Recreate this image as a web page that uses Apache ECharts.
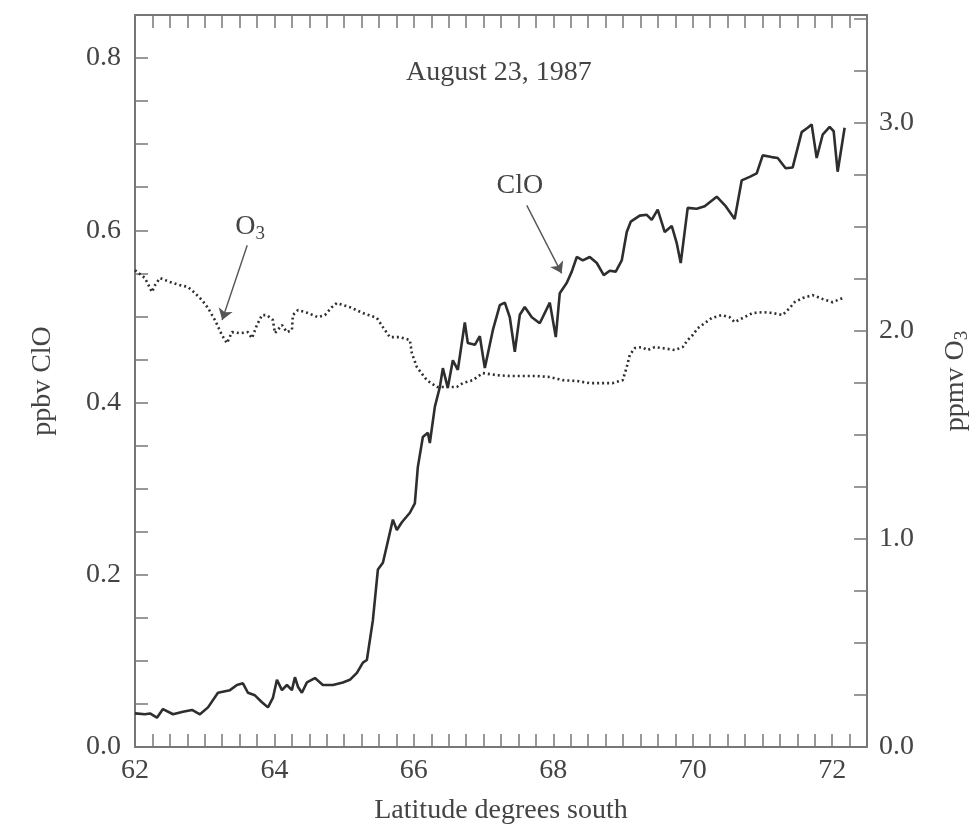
<!DOCTYPE html>
<html>
<head>
<meta charset="UTF-8">
<title>ClO and O3, August 23, 1987</title>
<style>
  html, body { margin: 0; padding: 0; background: #fff; overflow: hidden; }
  #chart { width: 970px; height: 833px; }
</style>
<script src="https://cdn.jsdelivr.net/npm/echarts@6/dist/echarts.min.js"></script>
</head>
<body>
<div id="chart"></div>
<script>
// latitude (deg S) and ClO (ppbv), solid line, left axis
const latClO = [62.000,62.143,62.215,62.315,62.401,62.545,62.688,62.817,62.932,63.047,
  63.190,63.362,63.462,63.548,63.620,63.720,63.821,63.907,63.978,64.036,
  64.108,64.179,64.251,64.294,64.337,64.394,64.466,64.581,64.695,64.839,
  64.982,65.082,65.183,65.269,65.326,65.412,65.484,65.556,65.699,65.756,
  65.828,65.943,66.014,66.057,66.129,66.201,66.229,66.301,66.373,66.416,
  66.487,66.559,66.631,66.731,66.774,66.875,66.946,67.018,67.133,67.233,
  67.305,67.376,67.448,67.520,67.591,67.692,67.806,67.950,68.036,68.093,
  68.194,68.265,68.337,68.423,68.523,68.624,68.724,68.810,68.896,68.982,
  69.054,69.111,69.240,69.341,69.412,69.498,69.599,69.699,69.771,69.828,
  69.928,70.057,70.172,70.344,70.473,70.602,70.703,70.817,70.918,71.004,
  71.133,71.219,71.333,71.434,71.563,71.649,71.706,71.778,71.864,71.964,
  72.022,72.079,72.179];
const clo = [0.039,0.038,0.039,0.034,0.044,0.038,0.041,0.043,0.038,0.046,
  0.063,0.066,0.072,0.074,0.063,0.060,0.052,0.046,0.057,0.078,
  0.066,0.072,0.066,0.081,0.070,0.063,0.075,0.080,0.072,0.072,
  0.075,0.078,0.086,0.098,0.101,0.147,0.206,0.214,0.264,0.252,
  0.261,0.272,0.283,0.325,0.360,0.365,0.353,0.395,0.418,0.440,
  0.417,0.449,0.438,0.493,0.469,0.467,0.477,0.440,0.484,0.513,
  0.516,0.499,0.459,0.502,0.511,0.499,0.492,0.516,0.476,0.527,
  0.539,0.552,0.569,0.565,0.569,0.562,0.548,0.553,0.552,0.565,
  0.598,0.610,0.617,0.618,0.612,0.624,0.598,0.605,0.585,0.562,
  0.626,0.625,0.628,0.639,0.628,0.613,0.658,0.662,0.666,0.687,
  0.685,0.684,0.672,0.673,0.714,0.719,0.723,0.684,0.711,0.720,
  0.715,0.668,0.719];

// latitude and O3 (ppmv), dotted line, right axis
const latO3 = [62.000,62.143,62.215,62.244,62.287,62.358,62.502,62.645,62.760,62.860,
  62.961,63.047,63.147,63.247,63.319,63.391,63.505,63.620,63.677,63.749,
  63.821,63.892,63.978,64.007,64.108,64.179,64.251,64.265,64.337,64.480,
  64.624,64.724,64.824,64.896,65.082,65.269,65.470,65.556,65.656,65.799,
  65.943,65.971,66.043,66.186,66.330,66.473,66.616,66.703,66.846,66.989,
  67.190,67.376,67.563,67.763,67.950,68.136,68.337,68.523,68.853,68.996,
  69.054,69.097,69.168,69.269,69.355,69.455,69.570,69.742,69.857,69.928,
  70.000,70.072,70.172,70.272,70.416,70.530,70.602,70.717,70.860,71.004,
  71.147,71.290,71.391,71.462,71.577,71.720,71.864,72.007,72.151];
const o3 = [2.293,2.255,2.207,2.188,2.221,2.255,2.236,2.221,2.212,2.183,
  2.149,2.111,2.053,1.981,1.942,1.995,1.990,1.995,1.966,2.029,
  2.077,2.077,2.053,1.990,2.029,1.995,2.005,2.077,2.101,2.087,
  2.067,2.077,2.115,2.135,2.115,2.087,2.063,2.019,1.971,1.971,
  1.957,1.894,1.827,1.764,1.731,1.731,1.731,1.750,1.764,1.798,
  1.788,1.784,1.784,1.784,1.779,1.764,1.760,1.750,1.750,1.764,
  1.827,1.885,1.918,1.923,1.909,1.923,1.918,1.909,1.923,1.957,
  1.981,2.014,2.038,2.063,2.077,2.067,2.043,2.063,2.087,2.091,
  2.087,2.077,2.111,2.139,2.159,2.173,2.154,2.139,2.159];

const FONT = 'Liberation Serif';
const INK = '#2e2e2e';
const AXIS = '#777';
const TXT = '#444';

function tickAxis(extra) {
  return Object.assign({
    type: 'value',
    axisLine: { show: true, onZero: false, lineStyle: { color: AXIS, width: 2 } },
    axisTick: { show: true, inside: true, length: 13, lineStyle: { color: AXIS, width: 1.5 } },
    splitLine: { show: false },
    nameTextStyle: { color: TXT, fontSize: 28, fontFamily: FONT }
  }, extra);
}
const lbl = { color: TXT, fontSize: 28, fontFamily: FONT };

const chart = echarts.init(document.getElementById('chart'));
chart.setOption({
  animation: false,
  textStyle: { fontFamily: FONT },
  grid: { left: 135, right: 103, top: 15, bottom: 86, containLabel: false, outerBoundsMode: 'none' },
  xAxis: [
    tickAxis({
      min: 62, max: 72.5, interval: 0.25, position: 'bottom',
      axisLabel: Object.assign({ margin: 10, formatter: function (v) { return v % 2 === 0 ? String(v) : ''; } }, lbl),
      name: 'Latitude degrees south', nameLocation: 'middle', nameGap: 50
    }),
    tickAxis({
      min: 62, max: 72.5, interval: 0.25, position: 'top',
      axisLabel: { show: false }
    })
  ],
  yAxis: [
    tickAxis({
      min: 0, max: 0.85, interval: 0.05, position: 'left',
      axisLabel: Object.assign({ margin: 14, formatter: function (v) {
        return Math.abs(v * 5 - Math.round(v * 5)) < 1e-6 ? v.toFixed(1) : '';
      } }, lbl),
      name: 'ppbv ClO', nameLocation: 'middle', nameGap: 78
    }),
    tickAxis({
      min: 0, max: 3.52, interval: 0.25, position: 'right',
      axisLabel: Object.assign({ margin: 12, formatter: function (v) {
        return Math.abs(v - Math.round(v)) < 1e-6 ? v.toFixed(1) : '';
      } }, lbl),
      name: 'ppmv O{s|3}', nameLocation: 'middle', nameGap: 72,
      nameTextStyle: { color: TXT, fontSize: 28, fontFamily: FONT,
        rich: { s: { fontSize: 19, fontFamily: FONT, color: TXT, padding: [14, 0, 0, 0] } } }
    })
  ],
  series: [
    {
      name: 'ClO', type: 'line', xAxisIndex: 0, yAxisIndex: 0,
      data: latClO.map(function (x, i) { return [x, clo[i]]; }),
      showSymbol: false, silent: true,
      lineStyle: { color: INK, width: 2.6 },
      markLine: {
        silent: true, symbol: ['none', 'arrow'], symbolSize: 11,
        label: { show: false },
        lineStyle: { type: 'solid', color: '#555', width: 1.4 },
        data: [[{ coord: [67.62, 0.629] }, { coord: [68.12, 0.550] }]]
      },
      markPoint: {
        silent: true, symbol: 'circle', symbolSize: 1,
        itemStyle: { color: 'rgba(0,0,0,0)' },
        label: Object.assign({ show: true, position: 'inside' }, lbl),
        data: [
          { coord: [67.52, 0.652], label: { formatter: 'ClO' } },
          { coord: [67.22, 0.783], label: { formatter: 'August 23, 1987' } }
        ]
      }
    },
    {
      name: 'O3', type: 'line', xAxisIndex: 0, yAxisIndex: 1,
      data: latO3.map(function (x, i) { return [x, o3[i]]; }),
      showSymbol: false, silent: true,
      lineStyle: { color: INK, width: 2.6, type: [2, 3] },
      markLine: {
        silent: true, symbol: ['none', 'arrow'], symbolSize: 11,
        label: { show: false },
        lineStyle: { type: 'solid', color: '#555', width: 1.4 },
        data: [[{ coord: [63.61, 2.413] }, { coord: [63.25, 2.053] }]]
      },
      markPoint: {
        silent: true, symbol: 'circle', symbolSize: 1,
        itemStyle: { color: 'rgba(0,0,0,0)' },
        label: Object.assign({
          show: true, position: 'inside', formatter: 'O{s|3}',
          rich: { s: { fontSize: 19, fontFamily: FONT, color: TXT, padding: [14, 0, 0, 0] } }
        }, lbl),
        data: [{ coord: [63.65, 2.50] }]
      }
    }
  ]
});
</script>
</body>
</html>
